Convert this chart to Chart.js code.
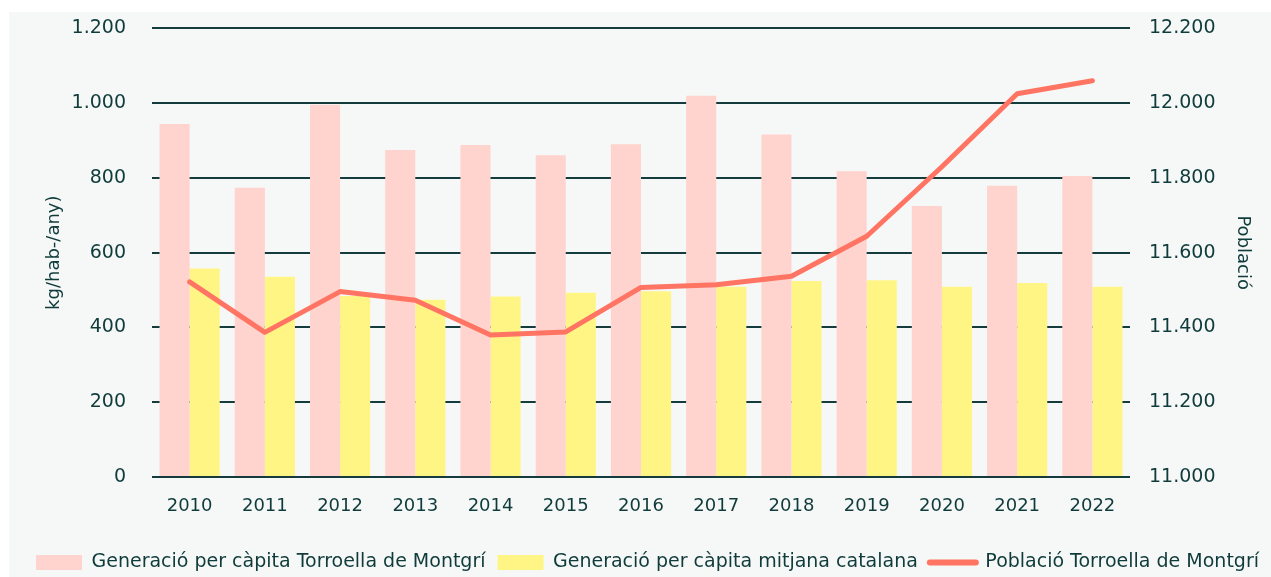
<!DOCTYPE html>
<html>
<head>
<meta charset="utf-8">
<script src="https://cdn.jsdelivr.net/npm/chart.js@4.4.0/dist/chart.umd.min.js"></script>
<style>
  html, body { margin: 0; padding: 0; background: #ffffff; }
  #wrap { position: absolute; left: 9px; top: 12px; width: 1262px; height: 565px; }
</style>
</head>
<body>
<div id="wrap"><canvas id="chart" width="1262" height="565"></canvas></div>
<script>
const years = ['2010', '2011', '2012', '2013', '2014', '2015', '2016', '2017', '2018', '2019', '2020', '2021', '2022'];
const torroellaKg = [944, 774, 996, 875, 888, 861, 890, 1020, 916, 818, 725, 779, 805];
const cataloniaKg = [558, 536, 484, 474, 483, 493, 497, 509, 524, 526, 509, 519, 509];
const population = [11522, 11387, 11496, 11473, 11380, 11388, 11507, 11514, 11537, 11644, 11830, 12025, 12060];

const textColor = '#0f3b3b';
const gridColor = '#143c3d';
const fontFamily = "'DejaVu Sans', sans-serif";

const dotThousands = v => String(v).replace(/\B(?=(\d{3})+(?!\d))/g, '.');

const bgPlugin = {
  id: 'bg',
  beforeDraw(chart) {
    const ctx = chart.ctx;
    ctx.save();
    ctx.fillStyle = '#f6f8f7';
    ctx.fillRect(0, 0, chart.width, chart.height);
    ctx.restore();
  }
};

new Chart(document.getElementById('chart'), {
  type: 'bar',
  data: {
    labels: years,
    datasets: [
      {
        type: 'line',
        label: 'Població Torroella de Montgrí',
        data: population,
        yAxisID: 'yPop',
        borderColor: '#ff7462',
        backgroundColor: '#ff7462',
        borderWidth: 5,
        borderCapStyle: 'round',
        borderJoinStyle: 'round',
        pointRadius: 0,
        tension: 0,
        order: 0
      },
      {
        label: 'Generació per càpita Torroella de Montgrí',
        data: torroellaKg,
        yAxisID: 'y',
        backgroundColor: '#ffd3ce',
        categoryPercentage: 0.8,
        barPercentage: 1.0,
        order: 1
      },
      {
        label: 'Generació per càpita mitjana catalana',
        data: cataloniaKg,
        yAxisID: 'y',
        backgroundColor: '#fff584',
        categoryPercentage: 0.8,
        barPercentage: 1.0,
        order: 2
      }
    ]
  },
  options: {
    responsive: false,
    animation: false,
    layout: { padding: { top: 0, left: 0, right: 0, bottom: -5 } },
    plugins: {
      legend: {
        position: 'bottom',
        align: 'end',
        labels: {
          color: textColor,
          font: { family: fontFamily, size: 19 },
          usePointStyle: true,
          pointStyleWidth: 46,
          boxHeight: 15,
          padding: 12,
          sort: (a, b) => (a.datasetIndex === 0 ? 1 : 0) - (b.datasetIndex === 0 ? 1 : 0),
          generateLabels(chart) {
            const items = Chart.defaults.plugins.legend.labels.generateLabels(chart);
            items.forEach(it => {
              if (it.datasetIndex === 0) {
                it.pointStyle = 'line';
                it.lineWidth = 6;
                it.lineCap = 'round';
              } else {
                it.pointStyle = 'rect';
                it.lineWidth = 0;
              }
            });
            return items;
          }
        }
      },
      tooltip: { enabled: false }
    },
    scales: {
      x: {
        grid: { display: false },
        border: { display: false },
        ticks: { color: textColor, font: { family: fontFamily, size: 18 }, padding: 11 },
        afterFit(scale) { scale.height = 64; }
      },
      y: {
        position: 'left',
        min: 0,
        max: 1200,
        ticks: {
          stepSize: 200,
          color: textColor,
          font: { family: fontFamily, size: 19 },
          padding: 5,
          callback: v => dotThousands(v)
        },
        grid: { color: gridColor, lineWidth: 2, drawTicks: true, tickLength: 21, tickColor: 'rgba(0,0,0,0)' },
        border: { display: false },
        title: {
          display: true,
          text: 'kg/hab-/any)',
          color: textColor,
          font: { family: fontFamily, size: 18 },
          padding: { top: 35, bottom: 0 }
        },
        afterFit(scale) { scale.width = 143; }
      },
      yPop: {
        position: 'right',
        min: 11000,
        max: 12200,
        ticks: {
          stepSize: 200,
          color: textColor,
          font: { family: fontFamily, size: 19 },
          padding: 5,
          callback: v => dotThousands(v)
        },
        grid: { display: false, drawTicks: true, tickLength: 14 },
        border: { display: false },
        title: {
          display: true,
          text: 'Població',
          color: textColor,
          font: { family: fontFamily, size: 18 },
          padding: { top: 18, bottom: 0 }
        },
        afterFit(scale) { scale.width = 141; }
      }
    }
  },
  plugins: [bgPlugin]
});
</script>
</body>
</html>
